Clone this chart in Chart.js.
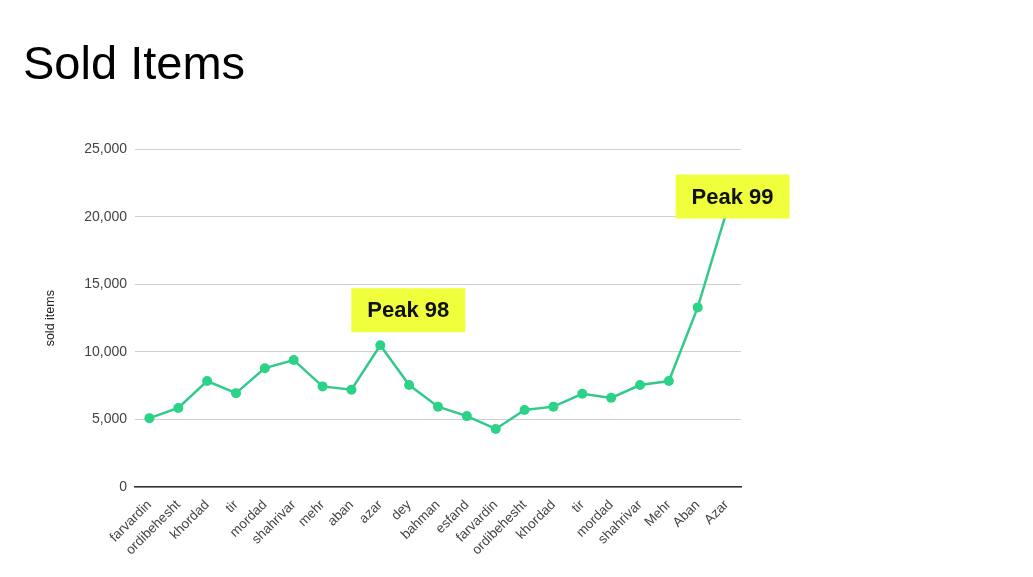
<!DOCTYPE html>
<html lang="en">
<head>
	<meta charset="UTF-8">
	<title>Sold Items</title>
	<style>
		html, body { margin: 0; padding: 0; background: #fff; }
		#wrap { width: 1033px; height: 577px; }
	</style>
</head>
<body>
	<div id="wrap"><canvas id="myChart" width="1033" height="577"></canvas></div>

	<script src="https://cdn.jsdelivr.net/npm/chart.js@4.4.0/dist/chart.umd.min.js"></script>
	<script type="text/javascript">

		// months (two years)
		var months = ['farvardin', 'ordibehesht', 'khordad', 'tir', 'mordad', 'shahrivar', 'mehr', 'aban', 'azar', 'dey', 'bahman', 'esfand',
			'farvardin', 'ordibehesht', 'khordad', 'tir', 'mordad', 'shahrivar', 'Mehr', 'Aban', 'Azar'];
		var soldItems = [5100, 5850, 7850, 6950, 8800, 9400, 7450, 7200, 10500, 7550, 5950, 5250,
			4300, 5700, 5950, 6900, 6600, 7550, 7850, 13300, 20400];
		var peakIndex = [8, 20];
		var peakText = ['Peak 98', 'Peak 99'];

		var font = '"Liberation Sans", Arial, sans-serif';

		// yellow labels placed next to the peak points
		var peakLabels = {
			id: 'peakLabels',
			afterDatasetsDraw: function(chart, args, opts) {
				var ctx = chart.ctx;
				var meta = chart.getDatasetMeta(0);
				ctx.save();
				ctx.font = 'bold 22px ' + font;
				ctx.textAlign = 'center';
				ctx.textBaseline = 'middle';
				peakIndex.forEach(function(idx, i) {
					var pt = meta.data[idx];
					var off = opts.offsets[i];
					var cx = pt.x + off[0], cy = pt.y + off[1];
					ctx.fillStyle = '#f0ff3c';
					ctx.fillRect(cx - 57, cy - 22, 114, 44);
					ctx.fillStyle = '#111';
					ctx.fillText(peakText[i], cx, cy + 1);
				});
				ctx.restore();
			}
		};

		var ctx = document.getElementById('myChart').getContext('2d');
		var myChart = new Chart(ctx, {
			type: 'line',
			data: {
				labels: months,
				datasets: [{
					label: 'sold items',
					data: soldItems,
					borderColor: '#34c98c',
					backgroundColor: '#2ad386',
					borderWidth: 2.5,
					pointRadius: 5,
					pointBorderWidth: 0,
					pointBackgroundColor: '#2ad386',
					tension: 0,
					fill: false
				}]
			},
			options: {
				responsive: false,
				animation: false,
				layout: { padding: { left: 23, right: 292, top: 0, bottom: 0 } },
				plugins: {
					legend: { display: false },
					tooltip: { enabled: false },
					title: {
						display: true,
						text: 'Sold Items',
						align: 'start',
						color: '#000',
						font: { family: font, size: 47, weight: 'normal', lineHeight: 1.2 },
						padding: { top: 38, bottom: 55 }
					},
					peakLabels: { offsets: [[28, -35], [6, -15]] }
				},
				scales: {
					x: {
						offset: true,
						grid: { display: false },
						border: { display: true, color: '#333', width: 1.5 },
						ticks: {
							color: '#444',
							font: { family: font, size: 13.5 },
							minRotation: 45,
							maxRotation: 45,
							autoSkip: false,
							padding: 2
						},
						afterFit: function(scale) { scale.height = 90; }
					},
					y: {
						min: 0,
						max: 25000,
						grid: { color: '#d0d0d0', drawTicks: false },
						border: { display: false },
						ticks: {
							stepSize: 5000,
							color: '#444',
							padding: 8,
							font: { family: font, size: 14 }
						},
						title: {
							display: true,
							text: 'sold items',
							color: '#222',
							padding: { top: 20, bottom: 0 },
							font: { family: font, size: 12.5 }
						},
						afterFit: function(scale) { scale.width = 112; }
					}
				}
			},
			plugins: [peakLabels]
		});
	</script>
</body>
</html>
